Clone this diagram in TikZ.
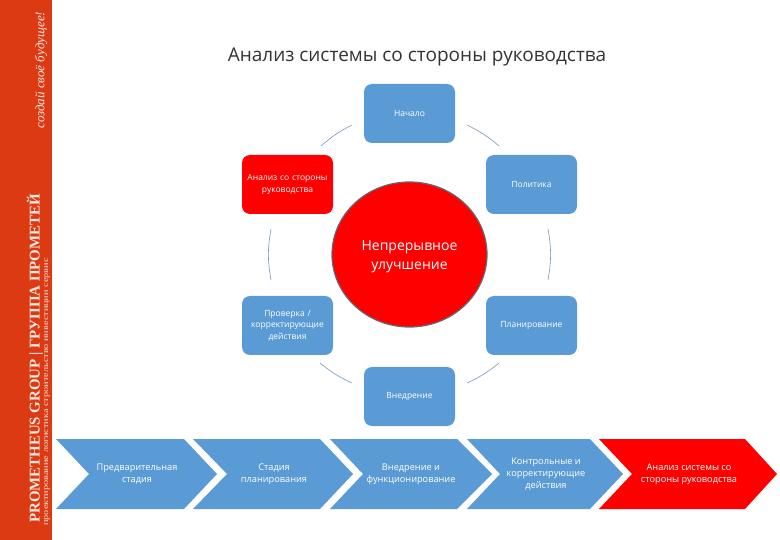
\documentclass[tikz,border=0pt]{standalone}
\usepackage{fontspec}
\setmainfont{Open Sans}
\newfontfamily\serifbrand{Liberation Serif}
\definecolor{mlblue}{RGB}{91,155,213}
\definecolor{mlred}{RGB}{255,0,0}
\definecolor{mlbar}{RGB}{220,58,18}
\definecolor{mlarc}{RGB}{120,150,185}
\definecolor{mlrim}{RGB}{95,105,115}
\usetikzlibrary{calc,positioning,shapes.geometric}
\tikzset{
  stagebox/.style={rounded corners=8pt,minimum width=91pt,minimum height=59pt,inner sep=1pt,
    align=center,text=white,font=\fontsize{8.5}{11.5}\selectfont,text width=86pt},
  arcline/.style={draw=mlarc,line width=0.6pt},
  chevlabel/.style={align=center,text=white,font=\fontsize{9.2}{12}\selectfont}
}
\begin{document}
\begin{tikzpicture}[x=1pt,y=-1pt]
\useasboundingbox (0,0) rectangle (780,540);
\fill[mlbar] (0,0) rectangle (52,540);
\node[rotate=90,text=white!90!mlbar,font=\serifbrand\itshape\fontsize{13}{13}\selectfont] (motto) at (41,70) {создай своё будущее!};
\node[rotate=90,text=white!90!mlbar,font=\serifbrand\bfseries\fontsize{14.9}{15}\selectfont] (brand) at (35,358.5) {PROMETHEUS GROUP | ГРУППА ПРОМЕТЕЙ};
\node[rotate=90,xscale=1.28,text=white!85!mlbar,font=\serifbrand\fontsize{8}{8}\selectfont] (services) at (47,392) {проектирование логистика строительство инвестиции сервис};
\node[font=\fontsize{19}{22}\selectfont,text=black!80] (title) at (417,57) {Анализ системы со стороны руководства};
% cycle
\node[stagebox,fill=mlblue] (start) at (409.5,113.5) {Начало};
\node[stagebox,fill=mlblue] (policy) at (531.5,184.5) {Политика};
\node[stagebox,fill=mlred] (review) at (287.5,184.5) {Анализ со стороны\\руководства};
\node[stagebox,fill=mlblue] (check) at (287.5,325.5) {Проверка /\\корректирующие\\действия};
\node[stagebox,fill=mlblue] (plan) at (531.5,325.5) {Планирование};
\node[stagebox,fill=mlblue] (impl) at (409.5,396.5) {Внедрение};
\node[ellipse,fill=mlred,draw=mlrim,line width=1.2pt,minimum width=155pt,minimum height=145pt,inner sep=0pt,align=center,
  text=white,font=\fontsize{14}{19}\selectfont] (hub) at (409.5,254.5) {\rule{0pt}{15pt}Непрерывное\\улучшение};
% arcs
\coordinate (a1) at (467,125);
\coordinate (a2) at (499,146);
\coordinate (b1) at (548,229);
\coordinate (b2) at (548,280);
\coordinate (c1) at (499,363);
\coordinate (c2) at (467,383);
\coordinate (d1) at (352,383);
\coordinate (d2) at (320,363);
\coordinate (e1) at (271,280);
\coordinate (e2) at (271,229);
\coordinate (f1) at (321,146);
\coordinate (f2) at (352,125);
\draw[arcline] (a1) to[bend left=7] (a2);
\draw[arcline] (b1) to[bend left=10] (b2);
\draw[arcline] (c1) to[bend left=7] (c2);
\draw[arcline] (d1) to[bend left=7] (d2);
\draw[arcline] (e1) to[bend left=10] (e2);
\draw[arcline] (f1) to[bend left=7] (f2);
% chevrons
\fill[mlblue] (56,439) -- (184,439) -- (217,474) -- (184,509) -- (56,509) -- (89,474) -- cycle;
\fill[mlblue] (193,439) -- (320,439) -- (353,474) -- (320,509) -- (193,509) -- (227,474) -- cycle;
\fill[mlblue] (330,439) -- (457,439) -- (492,474) -- (457,509) -- (330,509) -- (363,474) -- cycle;
\fill[mlblue] (467,439) -- (590,439) -- (623,474) -- (590,509) -- (467,509) -- (500,474) -- cycle;
\fill[mlred] (599,439) -- (745,439) -- (777,474) -- (745,509) -- (599,509) -- (632,474) -- cycle;
\node[chevlabel] (c one) at (137,474) {Предварительная\\стадия};
\node[chevlabel] (c two) at (274,474) {Стадия\\планирования};
\node[chevlabel] (c three) at (411,474) {Внедрение и\\функционирование};
\node[chevlabel] (c four) at (546,474) {Контрольные и\\корректирующие\\действия};
\node[chevlabel] (c five) at (689,474) {Анализ системы со\\стороны руководства};
\end{tikzpicture}
\end{document}
